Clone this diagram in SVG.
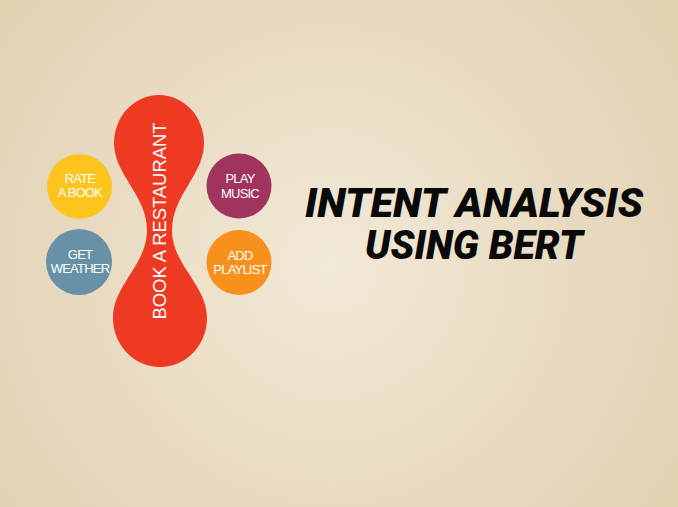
<svg xmlns="http://www.w3.org/2000/svg" width="678" height="507" viewBox="0 0 678 507">
<defs>
<radialGradient id="bg" cx="330" cy="265" r="420" gradientUnits="userSpaceOnUse">
<stop offset="0" stop-color="#F2E9D7"/>
<stop offset="0.6" stop-color="#E8DAC0"/>
<stop offset="1" stop-color="#E2D2B2"/>
</radialGradient>
<style>
.lbl{font-family:"Liberation Sans",Arial,sans-serif;font-size:13px;fill:#FFFFFF;text-anchor:middle;letter-spacing:-0.8px}
.main{font-family:"Liberation Sans",Arial,sans-serif;font-size:19px;fill:#FFFFFF;text-anchor:middle}
.title{font-family:Roboto,"Liberation Sans",Arial,sans-serif;font-size:40px;font-weight:900;font-style:italic;fill:#0A0A0A;text-anchor:middle}
</style>
</defs>
<rect x="0" y="0" width="678" height="507" fill="url(#bg)"/>
<g id="book-a-restaurant">
<path d="M114,143 A45,48 0 0 1 204,143 C204,175 172,195 172,230 C172,265 207,285 207,318 A47,49 0 0 1 113,318 C113,285 147,265 147,230 C147,195 114,175 114,143 Z" fill="#EE3A22"/>
<text class="main" transform="translate(166,221) rotate(-90)" x="0" y="0" textLength="197" lengthAdjust="spacingAndGlyphs">BOOK A RESTAURANT</text>
</g>
<g id="rate-a-book">
<circle cx="79.5" cy="186.5" r="32.5" fill="#FDC41E"/>
<text class="lbl" x="80" y="183">RATE</text>
<text class="lbl" x="80" y="196.5">A BOOK</text>
</g>
<g id="get-weather">
<circle cx="79" cy="262" r="33" fill="#6891A8"/>
<text class="lbl" x="80" y="258.5">GET</text>
<text class="lbl" x="80" y="273">WEATHER</text>
</g>
<g id="play-music">
<circle cx="239" cy="186" r="32.5" fill="#A0345F"/>
<text class="lbl" x="240" y="183">PLAY</text>
<text class="lbl" x="240" y="197.5">MUSIC</text>
</g>
<g id="add-playlist">
<circle cx="239" cy="262.5" r="32.5" fill="#F8911C"/>
<text class="lbl" x="240" y="260">ADD</text>
<text class="lbl" x="240" y="274">PLAYLIST</text>
</g>
<g id="connectors"/>
<g id="title">
<text class="title" x="474" y="217" textLength="338" lengthAdjust="spacingAndGlyphs">INTENT ANALYSIS</text>
<text class="title" x="474" y="259" textLength="218" lengthAdjust="spacingAndGlyphs">USING BERT</text>
</g>
</svg>
